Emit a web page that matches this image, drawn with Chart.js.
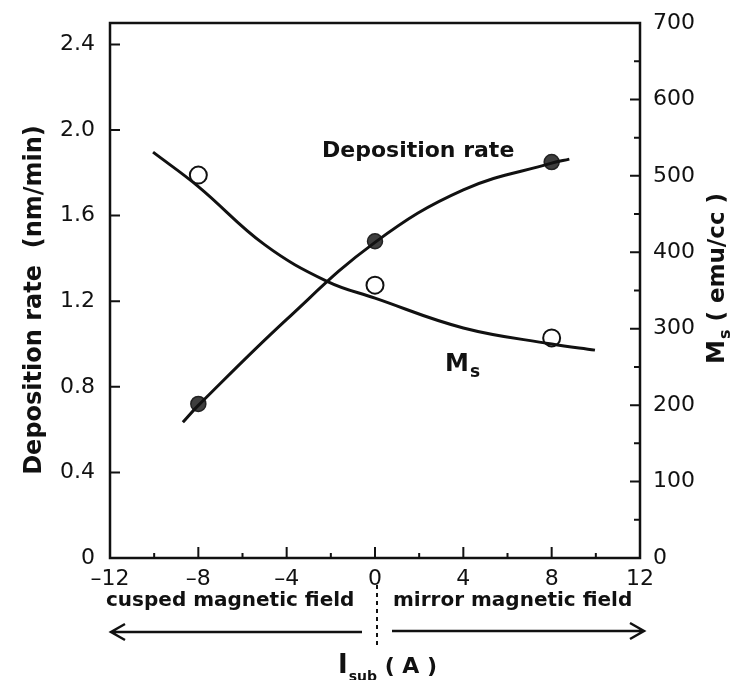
<!DOCTYPE html>
<html>
<head>
<meta charset="utf-8">
<script src="https://cdn.jsdelivr.net/npm/chart.js@4.4.1/dist/chart.umd.min.js"></script>
<style>
  html, body { margin: 0; padding: 0; background: #ffffff; }
  #wrap { width: 736px; height: 680px; position: relative; }
</style>
</head>
<body>
<div id="wrap"><canvas id="c" width="736" height="680"></canvas></div>
<script>
// ---- data ----
const xTicks = [-12, -8, -4, 0, 4, 8, 12];
const xMinorTicks = [-10, -6, -2, 2, 6, 10];
const rateTicks = [0, 0.4, 0.8, 1.2, 1.6, 2.0, 2.4];
const msTicks = [0, 100, 200, 300, 400, 500, 600, 700];
const msMinorTicks = [50, 150, 250, 350, 450, 550, 650];

const rateMarkerX = [-8, 0, 8];
const rateMarkerY = [0.72, 1.48, 1.85];
const msMarkerX = [-8, 0, 8];
const msMarkerY = [501, 357, 288];

const rateCurveX = [-8.7, -8.0, -4.0, 0, 4.0, 8.0, 8.8];
const rateCurveY = [0.634, 0.713, 1.115, 1.475, 1.72, 1.845, 1.864];
const msCurveX = [-10.05, -8, -5, -2.17, 0, 4, 8, 9.96];
const msCurveY = [531, 486, 410, 362, 340, 301, 280, 272];

const xRange = [-12, 12];
const rateRange = [0, 2.5];
const msRange = [0, 700];

const zip = (xs, ys) => xs.map((x, i) => ({ x: x, y: ys[i] }));

const INK = '#111111';
const FONT = "'DejaVu Sans', 'Liberation Sans', sans-serif";

function txt(ctx, s, x, y, size, weight, align, baseline) {
  ctx.font = (weight || 'normal') + ' ' + size + 'px ' + FONT;
  ctx.textAlign = align || 'left';
  ctx.textBaseline = baseline || 'alphabetic';
  ctx.fillText(s, x, y);
  return ctx.measureText(s).width;
}

const decorPlugin = {
  id: 'decor',
  afterDraw(chart) {
    const ctx = chart.ctx;
    const a = chart.chartArea;
    const sx = chart.scales.x, sy = chart.scales.y, sy2 = chart.scales.y2;
    ctx.save();
    ctx.strokeStyle = INK;
    ctx.fillStyle = INK;
    // frame
    ctx.lineWidth = 2.5;
    ctx.strokeRect(a.left, a.top, a.right - a.left, a.bottom - a.top);
    // inward ticks
    ctx.lineWidth = 2;
    ctx.beginPath();
    xTicks.forEach(v => { const p = sx.getPixelForValue(v); ctx.moveTo(p, a.bottom); ctx.lineTo(p, a.bottom - 11); });
    xMinorTicks.forEach(v => { const p = sx.getPixelForValue(v); ctx.moveTo(p, a.bottom); ctx.lineTo(p, a.bottom - 5); });
    rateTicks.forEach(v => { const p = sy.getPixelForValue(v); ctx.moveTo(a.left, p); ctx.lineTo(a.left + 10, p); });
    msTicks.forEach(v => { const p = sy2.getPixelForValue(v); ctx.moveTo(a.right, p); ctx.lineTo(a.right - 10, p); });
    msMinorTicks.forEach(v => { const p = sy2.getPixelForValue(v); ctx.moveTo(a.right, p); ctx.lineTo(a.right - 6, p); });
    ctx.stroke();

    // series annotations
    txt(ctx, 'Deposition rate', 322, 157, 22, 'bold');
    let w = txt(ctx, 'M', 445, 371, 24, 'bold');
    txt(ctx, 's', 445 + w + 1, 377, 17, 'bold');

    // left axis title
    ctx.save();
    ctx.translate(41, 300);
    ctx.rotate(-Math.PI / 2);
    txt(ctx, 'Deposition rate  (nm/min)', 0, 0, 24, 'bold', 'center');
    ctx.restore();

    // right axis title
    ctx.save();
    ctx.translate(724, 364);
    ctx.rotate(-Math.PI / 2);
    let cx = 0;
    cx += txt(ctx, 'M', cx, 0, 24, 'bold');
    cx += txt(ctx, 's', cx + 1, 6, 16, 'bold') + 1;
    txt(ctx, ' ( emu/cc )', cx, 0, 23, 'bold');
    ctx.restore();

    // field regions
    txt(ctx, 'cusped magnetic field', 106, 601, 20, 'bold', 'left', 'middle');
    txt(ctx, 'mirror magnetic field', 393, 601, 20, 'bold', 'left', 'middle');

    // dashed divider at I = 0
    const x0 = sx.getPixelForValue(0) + 2;
    ctx.lineWidth = 2;
    ctx.setLineDash([4, 4]);
    ctx.beginPath();
    ctx.moveTo(x0, 585); ctx.lineTo(x0, 648);
    ctx.stroke();
    ctx.setLineDash([]);

    // arrows
    const ay = 632;
    ctx.lineWidth = 2.5;
    ctx.beginPath();
    ctx.moveTo(362, ay); ctx.lineTo(111, ay);
    ctx.moveTo(125, ay - 8); ctx.lineTo(111, ay); ctx.lineTo(125, ay + 8);
    ctx.moveTo(392, ay - 1); ctx.lineTo(644, ay - 1);
    ctx.moveTo(630, ay - 9); ctx.lineTo(644, ay - 1); ctx.lineTo(630, ay + 7);
    ctx.stroke();

    // x axis title
    let ix = 338;
    ix += txt(ctx, 'I', ix, 673, 26, 'bold');
    ix += txt(ctx, 'sub', ix + 1, 681, 14, 'bold') + 1;
    txt(ctx, ' ( A )', ix, 673, 22, 'bold');
    ctx.restore();
  }
};

const tickFont = { family: FONT, size: 22 };

new Chart(document.getElementById('c'), {
  type: 'scatter',
  data: {
    datasets: [
      {
        label: 'Deposition rate curve',
        data: zip(rateCurveX, rateCurveY),
        yAxisID: 'y',
        showLine: true,
        tension: 0.4,
        borderColor: INK,
        borderWidth: 3,
        pointRadius: 0
      },
      {
        label: 'Ms curve',
        data: zip(msCurveX, msCurveY),
        yAxisID: 'y2',
        showLine: true,
        tension: 0.4,
        borderColor: INK,
        borderWidth: 3,
        pointRadius: 0
      },
      {
        label: 'Deposition rate',
        data: zip(rateMarkerX, rateMarkerY),
        yAxisID: 'y',
        pointRadius: 7.5,
        pointBackgroundColor: '#3e3e3e',
        pointBorderColor: '#222222',
        pointBorderWidth: 1.5
      },
      {
        label: 'Ms',
        data: zip(msMarkerX, msMarkerY),
        yAxisID: 'y2',
        pointRadius: 8.5,
        pointBackgroundColor: '#ffffff',
        pointBorderColor: INK,
        pointBorderWidth: 2
      }
    ]
  },
  options: {
    responsive: false,
    animation: false,
    layout: { padding: { top: 23, left: 0, right: 0, bottom: 0 } },
    plugins: { legend: { display: false }, tooltip: { enabled: false } },
    scales: {
      x: {
        type: 'linear',
        min: xRange[0], max: xRange[1],
        grid: { display: false },
        border: { display: false },
        afterBuildTicks: s => { s.ticks = xTicks.map(v => ({ value: v })); },
        afterFit: s => { s.height = 122; },
        ticks: {
          color: INK, font: tickFont, padding: 0, maxRotation: 0, autoSkip: false,
          callback: v => (v < 0 ? '\u2013' + Math.abs(v) : String(v))
        }
      },
      y: {
        type: 'linear', position: 'left',
        min: rateRange[0], max: rateRange[1],
        grid: { display: false },
        border: { display: false },
        afterBuildTicks: s => { s.ticks = rateTicks.map(v => ({ value: v })); },
        afterFit: s => { s.width = 110; },
        ticks: {
          color: INK, font: tickFont, padding: 7, autoSkip: false,
          callback: v => (v === 0 ? '0' : Number(v).toFixed(1))
        }
      },
      y2: {
        type: 'linear', position: 'right',
        min: msRange[0], max: msRange[1],
        grid: { display: false },
        border: { display: false },
        afterBuildTicks: s => { s.ticks = msTicks.map(v => ({ value: v })); },
        afterFit: s => { s.width = 96; },
        ticks: { color: INK, font: tickFont, padding: 5, autoSkip: false }
      }
    }
  },
  plugins: [decorPlugin]
});
</script>
</body>
</html>
